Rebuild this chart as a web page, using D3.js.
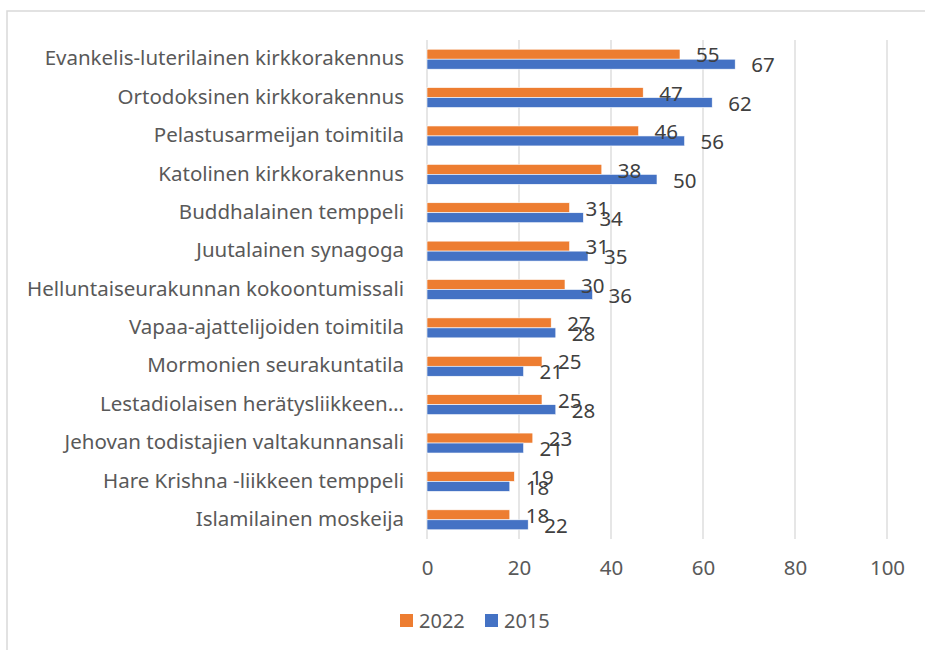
<!DOCTYPE html>
<html><head><meta charset="utf-8">
<script src="https://cdn.jsdelivr.net/npm/d3@7"></script>
<style>body{margin:0;background:#fff;} svg{display:block;}</style>
</head><body>
<script>
const categories = [
  "Evankelis-luterilainen kirkkorakennus",
  "Ortodoksinen kirkkorakennus",
  "Pelastusarmeijan toimitila",
  "Katolinen kirkkorakennus",
  "Buddhalainen temppeli",
  "Juutalainen synagoga",
  "Helluntaiseurakunnan kokoontumissali",
  "Vapaa-ajattelijoiden toimitila",
  "Mormonien seurakuntatila",
  "Lestadiolaisen herätysliikkeen…",
  "Jehovan todistajien valtakunnansali",
  "Hare Krishna -liikkeen temppeli",
  "Islamilainen moskeija"
];
const values2022 = [55, 47, 46, 38, 31, 31, 30, 27, 25, 25, 23, 19, 18];
const values2015 = [67, 62, 56, 50, 34, 35, 36, 28, 21, 28, 21, 18, 22];
const seriesNames = ["2022", "2015"];
const xTicks = [0, 20, 40, 60, 80, 100];

(function () {
const W = 925, H = 650;
const colors = {"2022": "#ED7D31", "2015": "#4472C4"};
const font = "'Noto Sans', 'Open Sans', sans-serif";

const svg = d3.select("body").append("svg").attr("width", W).attr("height", H);
svg.append("rect").attr("width", W).attr("height", H).attr("fill", "#fff");
svg.append("rect").attr("x", 7).attr("y", 11).attr("width", W + 20).attr("height", H + 20)
  .attr("fill", "none").attr("stroke", "#d9d9d9").attr("stroke-width", 1.5);

const pl = 427, pr = 887, pt = 40, pb = 539;
const x = d3.scaleLinear().domain([0, 100]).range([pl, pr]);
const y = d3.scaleBand().domain(categories).range([pt, pb]).paddingInner(0.48).paddingOuter(0.24);
const sub = d3.scaleBand().domain(seriesNames).range([0, y.bandwidth()]);

svg.append("g").selectAll("line").data(xTicks).join("line")
  .attr("x1", d => x(d)).attr("x2", d => x(d)).attr("y1", pt).attr("y2", pb)
  .attr("stroke", "#d9d9d9").attr("stroke-width", 1.3);

const xAxis = d3.axisBottom(x).tickValues(xTicks).tickSize(0).tickPadding(0);
const gx = svg.append("g").attr("transform", `translate(0,568)`).call(xAxis);
gx.select(".domain").remove();
gx.selectAll("text").attr("y", 0).attr("dy", "0.36em").attr("fill", "#595959")
  .attr("font-family", font).attr("font-size", 20.5);

const yAxis = d3.axisLeft(y).tickSize(0).tickPadding(23);
const gy = svg.append("g").attr("transform", `translate(${pl},0)`).call(yAxis);
gy.select(".domain").remove();
gy.selectAll("text").attr("fill", "#595959").attr("font-family", font).attr("font-size", 20.5).attr("dy", "0.3em");

const data = categories.map((c, i) => ({cat: c, vals: [{s: "2022", v: values2022[i]}, {s: "2015", v: values2015[i]}]}));
const groups = svg.append("g").selectAll("g").data(data).join("g")
  .attr("transform", d => `translate(0,${y(d.cat)})`);
groups.selectAll("rect").data(d => d.vals).join("rect")
  .attr("x", x(0)).attr("y", d => sub(d.s)).attr("height", sub.bandwidth())
  .attr("width", d => x(d.v) - x(0)).attr("fill", d => colors[d.s])
  .attr("stroke", "#fff").attr("stroke-width", 0.6);
groups.selectAll("text").data(d => d.vals).join("text")
  .attr("x", d => x(d.v) + 16).attr("y", d => sub(d.s) + sub.bandwidth() / 2 + 1)
  .attr("dy", "0.35em").attr("fill", "#404040").attr("font-family", font).attr("font-size", 20.5)
  .text(d => d3.format("d")(d.v));

const legend = svg.append("g").attr("transform", "translate(400,621)");
const li = legend.selectAll("g").data(seriesNames).join("g").attr("transform", (d, i) => `translate(${i * 85},0)`);
li.append("rect").attr("x", 0).attr("y", -7).attr("width", 13).attr("height", 13).attr("fill", d => colors[d]);
li.append("text").attr("x", 19).attr("y", 0).attr("dy", "0.35em").attr("fill", "#595959")
  .attr("font-family", font).attr("font-size", 20).text(d => d);
})();
</script>
</body></html>
